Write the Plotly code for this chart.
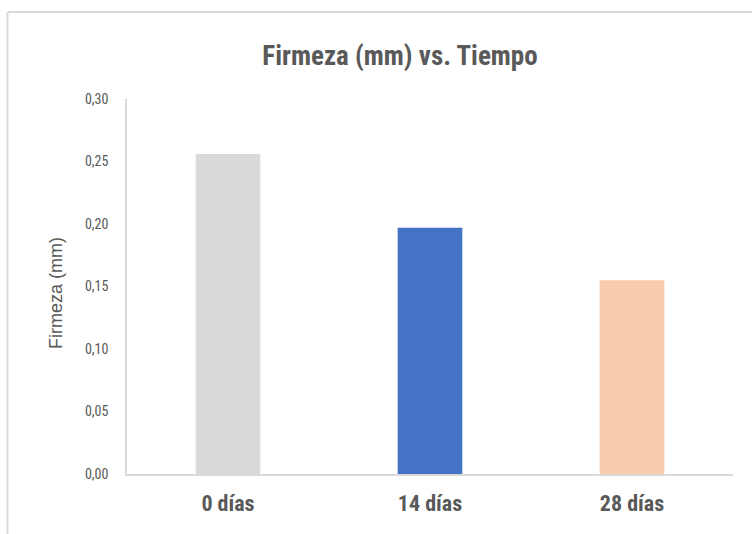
import plotly.graph_objects as go

# Firmness readings per storage time
categorias = ["0 días", "14 días", "28 días"]
firmeza = [0.256, 0.197, 0.155]
colores = ["#d9d9d9", "#4472c4", "#f8cbad"]
ticks_y = [0.00, 0.05, 0.10, 0.15, 0.20, 0.25, 0.30]

NARROW = "Liberation Sans Narrow, Arial Narrow, Roboto Condensed, Liberation Sans, sans-serif"
WIDE = "Liberation Sans, Arial, sans-serif"
GRIS = "#595959"

fig = go.Figure(
    go.Bar(
        x=categorias,
        y=firmeza,
        marker=dict(color=colores, line=dict(width=0)),
        width=0.32,
    )
)

W, H = 752, 534
L, R, T, B = 127, 19, 99, 60
pw, ph = W - L - R, H - T - B


def px_x(px):
    return (px - L) / pw


def px_y(py):
    return (H - B - py) / ph


fig.update_layout(
    width=W,
    height=H,
    margin=dict(l=L, r=R, t=T, b=B, pad=0),
    paper_bgcolor="white",
    plot_bgcolor="white",
    separators=",.",
    showlegend=False,
    title=dict(
        text="Firmeza (mm) vs. Tiempo",
        x=400 / W,
        xanchor="center",
        xref="container",
        y=1 - 56 / H,
        yanchor="middle",
        font=dict(family=NARROW, size=27, color=GRIS, weight="bold"),
    ),
    xaxis=dict(
        showline=True,
        linecolor="#d9d9d9",
        linewidth=1.5,
        showgrid=False,
        ticks="",
        tickfont=dict(family=NARROW, size=22, color=GRIS, weight="bold"),
        ticklabelstandoff=9,
    ),
    yaxis=dict(
        range=[0, 0.30],
        tickvals=ticks_y,
        tickformat=".2f",
        showline=True,
        linecolor="#d9d9d9",
        linewidth=1.5,
        showgrid=False,
        zeroline=False,
        ticks="",
        ticklabelstandoff=14,
        tickfont=dict(family=NARROW, size=14, color=GRIS),
    ),
    annotations=[
        dict(
            text="Firmeza (mm)",
            textangle=-90,
            xref="paper", yref="paper",
            x=px_x(56), y=px_y(293),
            xanchor="center", yanchor="middle",
            showarrow=False,
            font=dict(family=WIDE, size=18, color=GRIS),
        )
    ],
    shapes=[
        # frame around the chart area
        dict(type="line", xref="paper", yref="paper",
             x0=px_x(7.5), x1=px_x(760), y0=px_y(12), y1=px_y(12),
             line=dict(color="#d9d9d9", width=2)),
        dict(type="line", xref="paper", yref="paper",
             x0=px_x(7.5), x1=px_x(7.5), y0=px_y(12), y1=px_y(540),
             line=dict(color="#d9d9d9", width=2)),
    ],
)

fig.write_html("out.html")
